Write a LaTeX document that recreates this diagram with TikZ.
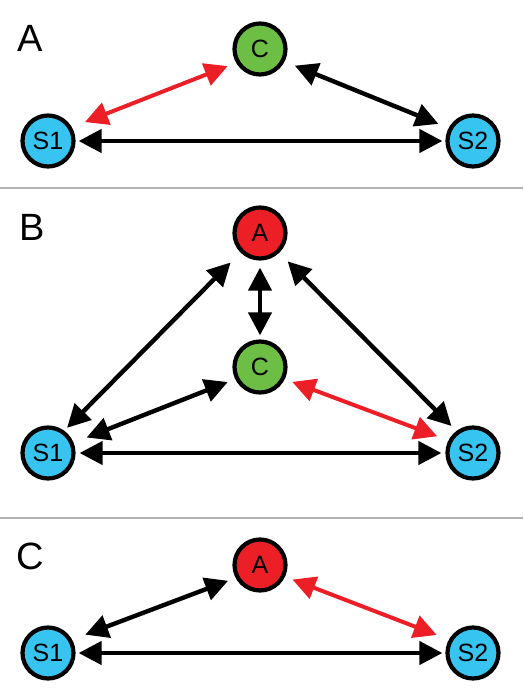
\documentclass[tikz,border=0pt]{standalone}
\usepackage{fontspec}
\setmainfont{Liberation Sans}
\usetikzlibrary{arrows.meta}
\definecolor{nodeblue}{RGB}{56,196,240}
\definecolor{nodegreen}{RGB}{108,190,69}
\definecolor{nodered}{RGB}{236,30,38}
\definecolor{sepgray}{RGB}{178,178,178}
\tikzset{
  circ/.style={circle, draw=black, line width=4.2pt, minimum size=51pt, inner sep=0pt,
    font=\fontsize{25}{25}\selectfont},
  sbox/.style={circ, fill=nodeblue},
  cbox/.style={circ, fill=nodegreen},
  abox/.style={circ, fill=nodered},
  biarrow/.style={line width=4.4pt, arrows={Triangle[length=23pt,width=23pt]-Triangle[length=23pt,width=23pt]}},
  redarrow/.style={biarrow, draw=nodered, line width=4pt},
  panellabel/.style={anchor=base west, inner sep=0pt, font=\fontsize{38}{38}\selectfont},
  sepline/.style={draw=sepgray, line width=2pt}
}
\begin{document}
\begin{tikzpicture}[x=1pt,y=-1pt]
\useasboundingbox (0,0) rectangle (523,698);
% separators
\coordinate (l1a) at (0,188); \coordinate (l1b) at (523,188);
\coordinate (l2a) at (0,518); \coordinate (l2b) at (523,518);
\draw[sepline] (l1a) -- (l1b);
\draw[sepline] (l2a) -- (l2b);

% ---------- Panel A ----------
\node[panellabel] (labA) at (17,52) {A};
\node[cbox] (aC) at (260,49) {C};
\node[sbox] (aS1) at (48,141) {S1};
\node[sbox] (aS2) at (473,141) {S2};
\draw[redarrow, shorten <=14pt, shorten >=9pt] (aS1.30) -- (aC.210);
\draw[biarrow, shorten <=11pt, shorten >=11pt] (aC.333) -- (aS2.152);
\draw[biarrow, shorten <=3pt, shorten >=3pt] (aS1) -- (aS2);

% ---------- Panel B ----------
\node[panellabel] (labB) at (19,240) {B};
\node[abox] (bA) at (260,233) {A};
\node[cbox] (bC) at (260,367) {C};
\node[sbox] (bS1) at (48,453) {S1};
\node[sbox] (bS2) at (473,453) {S2};
\draw[biarrow, shorten <=4pt, shorten >=14pt] (bS1.54) -- (bA.225);
\draw[biarrow, shorten <=7pt, shorten >=4pt] (bA) -- (bC);
\draw[biarrow, shorten <=12pt, shorten >=7pt] (bA.314) -- (bS2.127);
\draw[biarrow, shorten <=14pt, shorten >=8pt] (bS1.22) -- (bC.206);
\draw[redarrow, shorten <=8pt, shorten >=12pt] (bC.334) -- (bS2.153);
\draw[biarrow, shorten <=4pt, shorten >=4pt] (bS1) -- (bS2);

% ---------- Panel C ----------
\node[panellabel] (labC) at (16,569) {C};
\node[abox] (cA) at (260,565) {A};
\node[sbox] (cS1) at (48,653) {S1};
\node[sbox] (cS2) at (473,653) {S2};
\draw[biarrow, shorten <=14pt, shorten >=8pt] (cS1.29) -- (cA.208);
\draw[redarrow, shorten <=8pt, shorten >=13pt] (cA.335) -- (cS2.151);
\draw[biarrow, shorten <=3pt, shorten >=3pt] (cS1) -- (cS2);
\end{tikzpicture}
\end{document}
